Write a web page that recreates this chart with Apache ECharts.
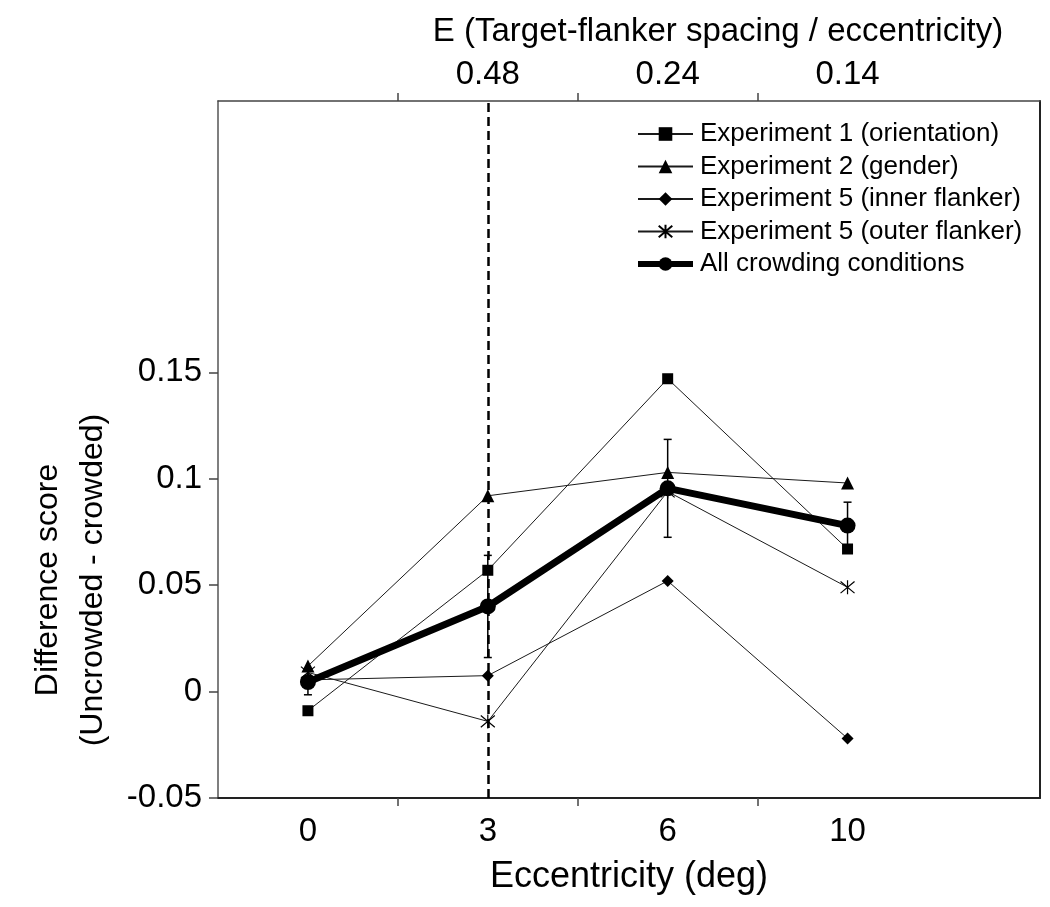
<!DOCTYPE html>
<html><head><meta charset="utf-8">
<script src="https://cdn.jsdelivr.net/npm/echarts@6/dist/echarts.min.js"></script>
<style>html,body{margin:0;padding:0;background:#fff}#c{width:1050px;height:907px}</style>
</head><body><div id="c"></div>
<script>
// ---- data ----
const positions = [1, 2, 3, 4];
const eccentricity = ['0', '3', '6', '10'];
const spacingPositions = [2, 3, 4];
const spacingE = ['0.48', '0.24', '0.14'];
const exp1 = [-0.009, 0.057, 0.147, 0.067];
const exp2 = [0.012, 0.092, 0.103, 0.098];
const exp5inner = [0.0055, 0.0075, 0.052, -0.022];
const exp5outer = [0.009, -0.014, 0.094, 0.049];
const allCond = [0.0045, 0.040, 0.0955, 0.078];
const allErr = [0.006, 0.024, 0.023, 0.011];
const yTicks = [-0.05, 0, 0.05, 0.1, 0.15];
const yTickLabels = ['-0.05', '0', '0.05', '0.1', '0.15'];
const xTicks = [1.5, 2.5, 3.5];
const criticalPosition = 2;

const FONT = "'Liberation Sans', Arial, sans-serif";
const pts = arr => positions.map((p, i) => [p, arr[i]]);
const asterisk = 'path://M-5,-5L5,5M5,-5L-5,5M0,-6L0,6';

const thin = (name, data, symbol, size, extra) => Object.assign({
  name, type: 'line', data: pts(data), symbol, symbolSize: size,
  lineStyle: { color: '#1a1a1a', width: 1 },
  itemStyle: { color: '#000' },
  z: 3
}, extra || {});

const chart = echarts.init(document.getElementById('c'));
chart.setOption({
  animation: false,
  backgroundColor: '#fff',
  textStyle: { fontFamily: FONT },
  grid: { left: 218, right: 10, top: 101, bottom: 109, outerBoundsMode: 'none' },
  legend: {
    orient: 'vertical', left: 635, top: 121, padding: 0,
    itemWidth: 55, itemHeight: 17, itemGap: 6.5,
    textStyle: { fontFamily: FONT, fontSize: 26, color: '#000', lineHeight: 26, padding: [0, 0, 0, 2] },
    data: [
      { name: 'Experiment 1 (orientation)' },
      { name: 'Experiment 2 (gender)' },
      { name: 'Experiment 5 (inner flanker)' },
      { name: 'Experiment 5 (outer flanker)' },
      { name: 'All crowding conditions', lineStyle: { width: 6 } }
    ]
  },
  xAxis: [{
    type: 'value', position: 'bottom', min: 0.5, max: 5.07,
    axisLine: { onZero: false, lineStyle: { color: '#222', width: 2 } },
    axisTick: { customValues: xTicks, length: 8, lineStyle: { color: '#444', width: 1.5 } },
    axisLabel: { customValues: positions, formatter: v => eccentricity[Math.round(v) - 1], fontSize: 33, color: '#000', margin: 17, fontFamily: FONT },
    splitLine: { show: false },
    name: 'Eccentricity (deg)', nameLocation: 'middle', nameGap: 61,
    nameTextStyle: { fontSize: 36, color: '#000', fontFamily: FONT }
  }, {
    type: 'value', position: 'top', min: 0.5, max: 5.07,
    axisLine: { onZero: false, lineStyle: { color: '#444', width: 1.5 } },
    axisTick: { customValues: xTicks, length: 8, lineStyle: { color: '#444', width: 1.5 } },
    axisLabel: { customValues: spacingPositions, formatter: v => spacingE[spacingPositions.indexOf(Math.round(v))], fontSize: 33, color: '#000', margin: 10, fontFamily: FONT },
    splitLine: { show: false }
  }],
  yAxis: [{
    type: 'value', position: 'left', min: -0.05, max: 0.2775,
    axisLine: { show: true, onZero: false, lineStyle: { color: '#555', width: 1.5 } },
    axisTick: { show: true, customValues: yTicks, length: 9, lineStyle: { color: '#444', width: 1.5 } },
    axisLabel: { customValues: yTicks, formatter: v => yTickLabels[yTicks.findIndex(t => Math.abs(t - v) < 1e-9)], fontSize: 33, color: '#000', margin: 16, fontFamily: FONT },
    splitLine: { show: false }
  }, {
    type: 'value', position: 'right', min: -0.05, max: 0.2775,
    axisLine: { show: true, onZero: false, lineStyle: { color: '#222', width: 2 } },
    axisTick: { show: false }, axisLabel: { show: false }, splitLine: { show: false }
  }],
  graphic: [{
    type: 'text', x: 71, y: 580, rotation: Math.PI / 2,
    style: {
      text: 'Difference score\n(Uncrowded - crowded)', fill: '#000',
      font: '32px ' + FONT, align: 'center', verticalAlign: 'middle', lineHeight: 45
    }
  }, {
    type: 'text', x: 718, y: 32,
    style: {
      text: 'E (Target-flanker spacing / eccentricity)', fill: '#000',
      font: '33px ' + FONT, align: 'center', verticalAlign: 'middle'
    }
  }],
  series: [
    thin('Experiment 1 (orientation)', exp1, 'rect', 11, {
      markLine: {
        silent: true, symbol: 'none', label: { show: false },
        lineStyle: { color: '#000', type: [9, 5], width: 2.5 },
        data: [{ xAxis: criticalPosition }]
      }
    }),
    thin('Experiment 2 (gender)', exp2, 'triangle', 13),
    thin('Experiment 5 (inner flanker)', exp5inner, 'diamond', 12),
    thin('Experiment 5 (outer flanker)', exp5outer, asterisk, 14, {
      itemStyle: { color: '#000', borderColor: '#000', borderWidth: 1.2 }
    }),
    {
      name: 'All crowding conditions', type: 'line', data: pts(allCond),
      symbol: 'circle', symbolSize: 16,
      lineStyle: { color: '#000', width: 7 }, itemStyle: { color: '#000' }, z: 5
    },
    {
      name: 'errors', type: 'custom', z: 4,
      data: positions.map((p, i) => [p, allCond[i], allErr[i]]),
      encode: { x: 0, y: 1 },
      renderItem: (params, api) => {
        const x = api.value(0), m = api.value(1), e = api.value(2);
        const hi = api.coord([x, m + e]), lo = api.coord([x, m - e]);
        const w = 4, st = { stroke: '#000', lineWidth: 1.5 };
        return {
          type: 'group', children: [
            { type: 'line', shape: { x1: hi[0], y1: hi[1], x2: lo[0], y2: lo[1] }, style: st },
            { type: 'line', shape: { x1: hi[0] - w, y1: hi[1], x2: hi[0] + w, y2: hi[1] }, style: st },
            { type: 'line', shape: { x1: lo[0] - w, y1: lo[1], x2: lo[0] + w, y2: lo[1] }, style: st }
          ]
        };
      }
    }
  ]
});
</script></body></html>
